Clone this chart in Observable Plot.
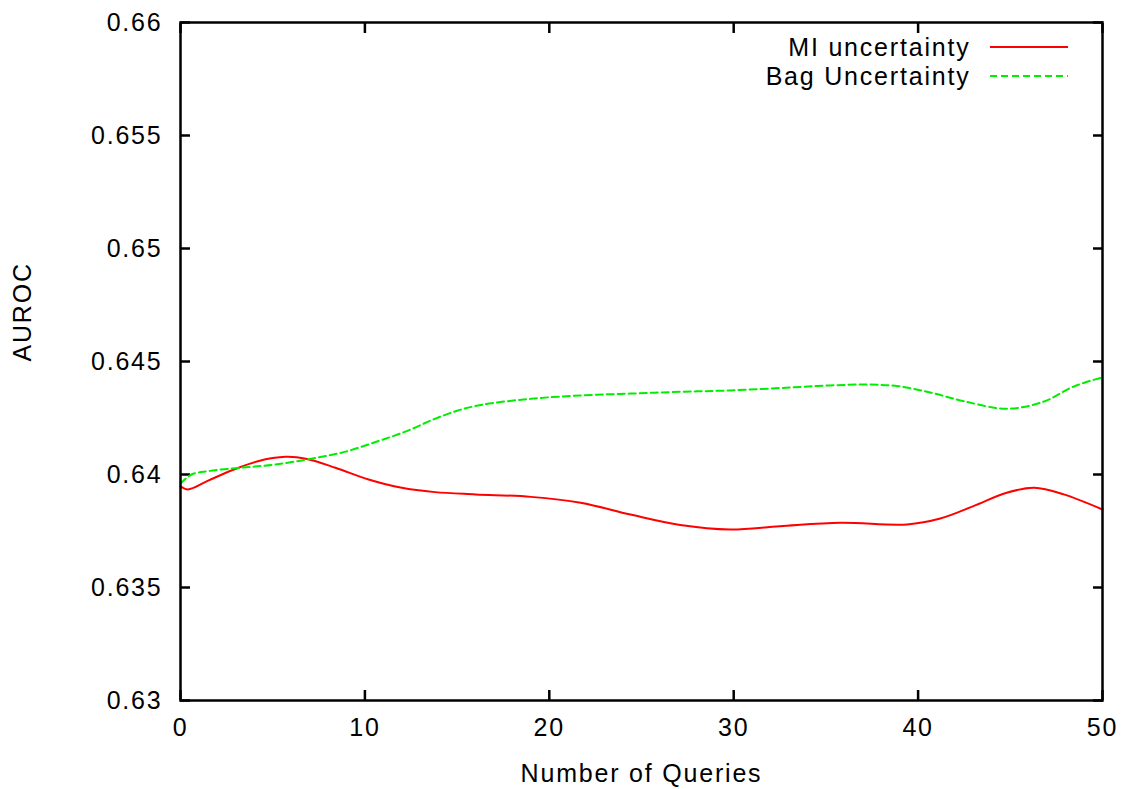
<!DOCTYPE html>
<html><head><meta charset="utf-8">
<script src="https://cdn.jsdelivr.net/npm/d3@7"></script>
<script src="https://cdn.jsdelivr.net/npm/@observablehq/plot@0.6"></script>
<style>
body{margin:0;background:#fff}
svg{font-family:"Liberation Sans",Arial,sans-serif}
</style>
</head><body><div id="chart"></div>
<script>
const seriesNames = ["MI uncertainty", "Bag Uncertainty"];
const seriesColors = ["#ff0000", "#00ee00"];
const miX     = [0, 0.4, 1.5, 2.9, 4.2, 5.7, 6.8, 8.4, 10.2, 12, 13.8, 16, 19, 21.7, 24.4, 27.1, 29.8, 32.5, 35.8, 39.4, 41.2, 43, 44.8, 46.3, 47.9, 50];
const miAUROC = [0.63948, 0.63934, 0.63973, 0.64022, 0.64059, 0.64078, 0.6407, 0.6403, 0.63978, 0.63941, 0.63922, 0.63912, 0.63901, 0.63875, 0.63823, 0.63777, 0.63757, 0.63771, 0.63786, 0.63779, 0.63805, 0.6386, 0.63919, 0.63941, 0.63912, 0.63845];
const bagX     = [0, 0.6, 1.5, 3.3, 5.1, 7.1, 8.9, 10.7, 12.3, 13.7, 15, 16.3, 19, 21.7, 24.4, 27.1, 29.8, 33.1, 35.2, 37.2, 38.9, 40.7, 42.5, 44.8, 46.8, 48.4, 50];
const bagAUROC = [0.6396, 0.6400, 0.64015, 0.6403, 0.64044, 0.6407, 0.6410, 0.64147, 0.64193, 0.64243, 0.64282, 0.64308, 0.64335, 0.6435, 0.64358, 0.64366, 0.64372, 0.64385, 0.64394, 0.64398, 0.64391, 0.64362, 0.64324, 0.64291, 0.64322, 0.64388, 0.6443];
const xTicks = [0, 10, 20, 30, 40, 50];
const yTicks = [0.63, 0.635, 0.64, 0.645, 0.65, 0.655, 0.66];
const xLabel = "Number of Queries";
const yLabel = "AUROC";

const mi = miX.map((x, i) => ({x, y: miAUROC[i]}));
const bag = bagX.map((x, i) => ({x, y: bagAUROC[i]}));
const fs = 25;

const chart = Plot.plot({
  width: 1125, height: 789,
  marginLeft: 180, marginRight: 23, marginTop: 22, marginBottom: 89,
  style: {fontSize: "25px", background: "#fff", color: "#000", letterSpacing: "1.8px", fontFamily: "'Liberation Sans', Arial, sans-serif"},
  x: {domain: [0, 50]},
  y: {domain: [0.63, 0.66]},
  marks: [
    Plot.axisX(xTicks, {anchor: "bottom", tickSize: 0, tickPadding: 18, label: null, fontSize: fs, tickFormat: d => `${d}`}),
    Plot.axisX(xTicks, {anchor: "bottom", tickSize: -10, text: null, label: null, strokeWidth: 2.5}),
    Plot.axisX(xTicks, {anchor: "top", tickSize: -10, text: null, label: null, strokeWidth: 2.5}),
    Plot.axisY(yTicks, {anchor: "left", tickSize: 0, tickPadding: 18, label: null, fontSize: fs, tickFormat: d => `${d}`}),
    Plot.axisY(yTicks, {anchor: "left", tickSize: -10, text: null, label: null, strokeWidth: 2.5}),
    Plot.axisY(yTicks, {anchor: "right", tickSize: -10, text: null, label: null, strokeWidth: 2.5}),
    Plot.line(mi, {x: "x", y: "y", stroke: seriesColors[0], strokeWidth: 2, curve: "catmull-rom"}),
    Plot.line(bag, {x: "x", y: "y", stroke: seriesColors[1], strokeWidth: 2, strokeDasharray: "7,4", curve: "catmull-rom"}),
    Plot.frame({stroke: "#000", strokeWidth: 2.5}),
    Plot.text([xLabel], {frameAnchor: "bottom", lineAnchor: "middle", dy: 73, text: d => d, fontSize: fs}),
    Plot.text([yLabel], {frameAnchor: "left", lineAnchor: "middle", dx: -158, rotate: -90, text: d => d, fontSize: fs}),
    Plot.text([seriesNames[0]], {frameAnchor: "top-right", lineAnchor: "middle", dx: -132, dy: 25, textAnchor: "end", text: d => d, fontSize: fs}),
    Plot.text([seriesNames[1]], {frameAnchor: "top-right", lineAnchor: "middle", dx: -132, dy: 54, textAnchor: "end", text: d => d, fontSize: fs})
  ]
});

// legend line samples
const svg = d3.select(chart);
svg.append("line").attr("x1", 990).attr("x2", 1068).attr("y1", 47).attr("y2", 47)
  .attr("stroke", seriesColors[0]).attr("stroke-width", 2);
svg.append("line").attr("x1", 990).attr("x2", 1068).attr("y1", 76).attr("y2", 76)
  .attr("stroke", seriesColors[1]).attr("stroke-width", 2).attr("stroke-dasharray", "7,4");

document.getElementById("chart").append(chart);
</script>
</body></html>
